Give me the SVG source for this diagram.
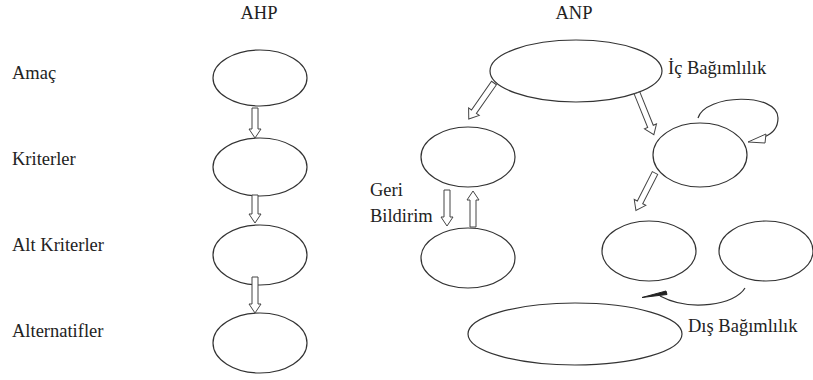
<svg xmlns="http://www.w3.org/2000/svg" width="813" height="380" viewBox="0 0 813 380">
<style>
.n{fill:#fff;stroke:#333;stroke-width:1.2}
.a{fill:#fff;stroke:#444;stroke-width:1}
.c{fill:none;stroke:#333;stroke-width:1.2}
text{font-family:'Liberation Serif','Times New Roman',serif;font-size:18.5px;fill:#222}
</style>
<g id="titles">
<text x="259" y="19" text-anchor="middle">AHP</text>
<text x="574" y="19" text-anchor="middle">ANP</text>
</g>
<g id="labels">
<text x="12" y="79">Amaç</text>
<text x="12" y="165">Kriterler</text>
<text x="12" y="251">Alt Kriterler</text>
<text x="12" y="337">Alternatifler</text>
</g>
<g id="ahp-amac"><ellipse class="n" cx="260" cy="78" rx="47" ry="28"/></g>
<g id="ahp-kriterler"><ellipse class="n" cx="260" cy="167" rx="47" ry="29"/></g>
<g id="ahp-alt-kriterler"><ellipse class="n" cx="260" cy="255" rx="47" ry="30"/></g>
<g id="ahp-alternatifler"><ellipse class="n" cx="260" cy="343" rx="47" ry="30"/></g>
<g id="anp-top"><ellipse class="n" cx="576" cy="71" rx="86" ry="31"/></g>
<g id="anp-left1"><ellipse class="n" cx="468" cy="157" rx="47" ry="30"/></g>
<g id="anp-left2"><ellipse class="n" cx="468" cy="258" rx="47" ry="30"/></g>
<g id="anp-right1"><ellipse class="n" cx="700" cy="155" rx="47" ry="32"/></g>
<g id="anp-mid2"><ellipse class="n" cx="649" cy="251" rx="47" ry="30"/></g>
<g id="anp-right2"><ellipse class="n" cx="766" cy="251" rx="47" ry="30"/></g>
<g id="anp-bottom"><ellipse class="n" cx="575" cy="334" rx="107" ry="31"/></g>
<g id="connectors">
<polygon class="a" points="252,108 258,108 258,129 261,129 255,138 249,129 252,129"/>
<polygon class="a" points="252,195 258,195 258,214 261,214 255,223 249,214 252,214"/>
<polygon class="a" points="252,277 258,277 258,304 261,304 255,313 249,304 252,304"/>
<g transform="translate(494,83) rotate(35)"><polygon class="a" points="-3,0 3,0 3,35 6.5,35 0,44 -6.5,35 -3,35"/></g>
<g transform="translate(637,93) rotate(-22)"><polygon class="a" points="-3,0 3,0 3,36 6.5,36 0,45 -6.5,36 -3,36"/></g>
<g transform="translate(655,173) rotate(27)"><polygon class="a" points="-3,0 3,0 3,33 6.5,33 0,42 -6.5,33 -3,33"/></g>
<polygon class="a" points="444,190 450,190 450,217 453,217 447,226 441,217 444,217"/>
<polygon class="a" points="470,227 476,227 476,200 479,200 473,191 467,200 470,200"/>
<path class="c" d="M698 118 C705 94 778 92 778 118 C778 128 772 134 764 137"/>
<polygon class="a" points="748,142 766,134 765,143"/>
<path class="c" d="M745 288 C735 305 690 312 660 296"/>
<polygon fill="#222" stroke="#222" stroke-width="1" points="642,297.5 666,291 667,294.5"/>
</g>
<g id="annotations">
<text x="668" y="74">İç Bağımlılık</text>
<text x="370" y="196">Geri</text>
<text x="370" y="222">Bildirim</text>
<text x="688" y="332">Dış Bağımlılık</text>
</g>
</svg>
